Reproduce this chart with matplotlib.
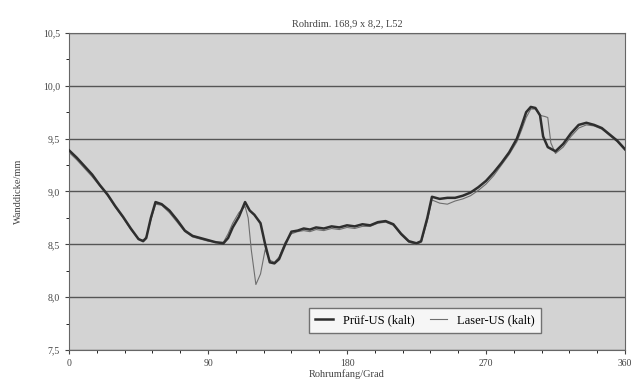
import numpy as np
import matplotlib.pyplot as plt
from matplotlib.ticker import MultipleLocator, FuncFormatter

plt.rcParams['font.family'] = ['Liberation Serif', 'DejaVu Serif']

# Pruef-US (kalt), dicke Linie
x_pruef = [0, 5, 10, 15, 20, 25, 30, 35, 40, 45, 48, 50, 53, 56, 60, 65, 70, 75, 80,
           85, 90, 95, 100, 103, 106, 110, 114, 117, 120, 124, 127, 130, 133, 136, 140,
           144, 148, 152, 156, 160, 165, 170, 175, 180, 185, 190, 195, 200, 205, 210,
           215, 220, 225, 228, 232, 235, 240, 245, 250, 255, 260, 265, 270, 275, 280,
           285, 290, 293, 296, 299, 302, 305, 307, 310, 315, 320, 325, 330, 335, 340,
           345, 350, 355, 360]
y_pruef = [9.39, 9.32, 9.24, 9.16, 9.06, 8.97, 8.86, 8.76, 8.65, 8.55, 8.53, 8.56, 8.75,
           8.90, 8.88, 8.82, 8.73, 8.63, 8.58, 8.56, 8.54, 8.52, 8.51, 8.56, 8.66, 8.76,
           8.90, 8.82, 8.78, 8.70, 8.50, 8.33, 8.32, 8.36, 8.50, 8.62, 8.63, 8.65, 8.64,
           8.66, 8.65, 8.67, 8.66, 8.68, 8.67, 8.69, 8.68, 8.71, 8.72, 8.69, 8.60, 8.53,
           8.51, 8.53, 8.75, 8.95, 8.93, 8.94, 8.94, 8.96, 8.99, 9.04, 9.10, 9.18, 9.27,
           9.37, 9.50, 9.62, 9.75, 9.80, 9.79, 9.72, 9.52, 9.42, 9.38, 9.45, 9.55, 9.63,
           9.65, 9.63, 9.60, 9.54, 9.48, 9.40]

# Laser-US (kalt), duenne Linie
x_laser = [0, 5, 10, 15, 20, 25, 30, 35, 40, 45, 48, 50, 53, 56, 60, 65, 70, 75, 80,
           85, 90, 95, 100, 103, 106, 110, 114, 116, 118, 121, 124, 127, 130, 133, 136,
           140, 144, 148, 152, 156, 160, 165, 170, 175, 180, 185, 190, 195, 200, 205,
           210, 215, 220, 225, 228, 232, 235, 240, 245, 250, 255, 260, 265, 270, 275,
           280, 285, 290, 293, 296, 299, 302, 305, 308, 310, 312, 315, 320, 325, 330,
           335, 340, 345, 350, 355, 360]
y_laser = [9.37, 9.30, 9.22, 9.14, 9.05, 8.96, 8.85, 8.75, 8.64, 8.55, 8.54, 8.57, 8.73,
           8.88, 8.87, 8.80, 8.71, 8.62, 8.57, 8.55, 8.53, 8.52, 8.52, 8.60, 8.70, 8.80,
           8.86, 8.75, 8.45, 8.12, 8.22, 8.45, 8.35, 8.33, 8.38, 8.52, 8.60, 8.62, 8.63,
           8.62, 8.64, 8.63, 8.65, 8.64, 8.66, 8.65, 8.67, 8.67, 8.70, 8.71, 8.68, 8.59,
           8.52, 8.50, 8.52, 8.72, 8.92, 8.89, 8.88, 8.91, 8.93, 8.96, 9.01, 9.07, 9.15,
           9.25, 9.35, 9.47, 9.58, 9.70, 9.78, 9.78, 9.72, 9.71, 9.70, 9.46, 9.36, 9.42,
           9.52, 9.60, 9.63, 9.62, 9.59, 9.53, 9.47, 9.39]

fig = plt.figure(figsize=(6.42, 3.92), dpi=100)
ax = fig.add_axes([0.1075, 0.107, 0.866, 0.809])
ax.set_facecolor('#d3d3d3')

l_pruef, = ax.plot(x_pruef, y_pruef, color='#2e2e2e', lw=1.8, zorder=4)
l_laser, = ax.plot(x_laser, y_laser, color='#6e6e6e', lw=0.8, zorder=3)

ax.set_xlim(0, 360)
ax.set_ylim(7.5, 10.5)
ax.xaxis.set_major_locator(MultipleLocator(90))
ax.xaxis.set_minor_locator(MultipleLocator(18))
ax.yaxis.set_major_locator(MultipleLocator(0.5))
ax.yaxis.set_minor_locator(MultipleLocator(0.25))
ax.yaxis.set_major_formatter(FuncFormatter(lambda v, p: ('%.1f' % v).replace('.', ',')))
ax.grid(axis='y', which='major', color='#555555', lw=1.0)
ax.set_axisbelow(True)
ax.tick_params(labelsize=7, colors='#444444', length=3)
ax.tick_params(which='minor', length=2)
for s in ax.spines.values():
    s.set_color('#666666')

ax.set_title('Rohrdim. 168,9 x 8,2, L52', fontsize=7.5, color='#444444', pad=5)
ax.set_xlabel('Rohrumfang/Grad', fontsize=7.5, color='#444444', labelpad=1)
ax.set_ylabel('Wanddicke/mm', fontsize=7.5, color='#444444', labelpad=14)

leg = ax.legend([l_pruef, l_laser], ['Prüf-US (kalt)', 'Laser-US (kalt)'],
                loc='lower right', bbox_to_anchor=(0.86, 0.035), ncol=2, fontsize=9,
                handlelength=1.4, frameon=True, fancybox=False, columnspacing=1.2,
                borderpad=0.5)
leg.get_frame().set_facecolor('white')
leg.get_frame().set_edgecolor('#555555')

fig.savefig('out.png', dpi=100)
